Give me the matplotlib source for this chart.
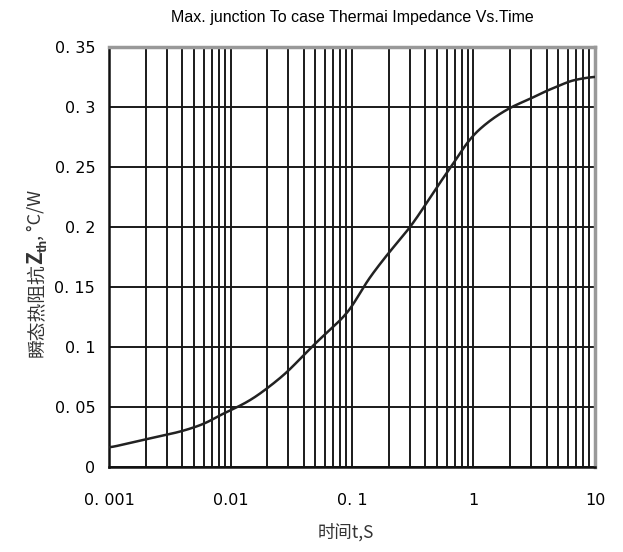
import matplotlib
matplotlib.use("Agg")
import matplotlib.pyplot as plt
import numpy as np
from matplotlib.ticker import FixedLocator, LogLocator, NullFormatter

t_s = [0.001, 0.002, 0.003, 0.004, 0.005, 0.006, 0.007, 0.009, 0.01, 0.0146, 0.02, 0.03,
       0.04, 0.05, 0.1, 0.1245, 0.2, 0.3, 0.549, 0.643, 1, 2, 3, 4, 5, 6, 8, 10]
zth = [0.0158, 0.0228, 0.0267, 0.0297, 0.0328, 0.0356, 0.039, 0.045, 0.047, 0.0556, 0.0653, 0.080,
       0.093, 0.1028, 0.1333, 0.150, 0.178, 0.1995, 0.239, 0.2487, 0.2764, 0.299, 0.307, 0.3133,
       0.317, 0.3208, 0.3236, 0.325]

y_ticks = [0, 0.05, 0.1, 0.15, 0.2, 0.25, 0.3, 0.35]
y_labels = ["0", "0. 05", "0. 1", "0. 15", "0. 2", "0. 25", "0. 3", "0. 35"]
x_ticks = [0.001, 0.01, 0.1, 1, 10]
x_labels = ["0. 001", "0.01", "0. 1", "1", "10"]

title = "Max. junction To case Thermai Impedance Vs.Time"
xlabel = "时间t,S"
ylabel_parts = ["瞬态热阻抗", "Z", "th", ", °C/W"]

CJK = ['Noto Sans CJK SC', 'DejaVu Sans']
plt.rcParams['font.family'] = ['Liberation Sans', 'Noto Sans CJK SC', 'DejaVu Sans']


def pchip(x, y, xn):
    x = np.asarray(x, float)
    y = np.asarray(y, float)
    h = np.diff(x)
    d = np.diff(y) / h
    m = np.zeros_like(y)
    for i in range(1, len(y) - 1):
        if d[i - 1] * d[i] <= 0:
            m[i] = 0
        else:
            w1 = 2 * h[i] + h[i - 1]
            w2 = h[i] + 2 * h[i - 1]
            m[i] = (w1 + w2) / (w1 / d[i - 1] + w2 / d[i])
    m[0] = d[0]
    m[-1] = d[-1]
    idx = np.clip(np.searchsorted(x, xn) - 1, 0, len(h) - 1)
    s = (xn - x[idx]) / h[idx]
    h00 = 2 * s**3 - 3 * s**2 + 1
    h10 = s**3 - 2 * s**2 + s
    h01 = -2 * s**3 + 3 * s**2
    h11 = s**3 - s**2
    return h00 * y[idx] + h10 * h[idx] * m[idx] + h01 * y[idx + 1] + h11 * h[idx] * m[idx + 1]


fig = plt.figure(figsize=(6.23, 5.52), dpi=100)
ax = fig.add_axes([0.175, 0.1545, 0.78, 0.761])

ax.set_xscale('log')
ax.set_xlim(0.001, 10)
ax.set_ylim(0, 0.35)

lt = np.log10(t_s)
fine = np.linspace(lt[0], lt[-1], 600)
zf = pchip(lt, zth, fine)
k = 21
kern = np.ones(k) / k
zpad = np.pad(zf, (k // 2, k // 2), mode='edge')
zs = np.convolve(zpad, kern, mode='valid')
ax.plot(10 ** fine, zs, color='#222222', lw=1.8, zorder=3)

ax.xaxis.set_major_locator(FixedLocator(x_ticks))
ax.xaxis.set_minor_locator(LogLocator(base=10, subs=np.arange(2, 10)))
ax.xaxis.set_minor_formatter(NullFormatter())
ax.set_xticks(x_ticks)
ax.set_xticklabels(x_labels, fontsize=11.5, family='DejaVu Sans')
ax.set_yticks(y_ticks)
ax.set_yticklabels(y_labels, fontsize=11.5, family='DejaVu Sans')

ax.grid(True, which='major', axis='both', color='#1a1a1a', lw=1.4)
ax.grid(True, which='minor', axis='x', color='#1a1a1a', lw=1.4)
ax.tick_params(which='both', length=0)
ax.tick_params(axis='x', pad=19)
ax.tick_params(axis='y', pad=10)

for s in ['left', 'bottom']:
    ax.spines[s].set_color('#111111')
    ax.spines[s].set_linewidth(1.8)
for s in ['top', 'right']:
    ax.spines[s].set_color('#999999')
    ax.spines[s].set_linewidth(2.5)

fig.text(0.565, 0.968, title, ha='center', va='center', fontsize=11.5,
         family=['Liberation Sans Narrow', 'Liberation Sans', 'DejaVu Sans'])
fig.text(0.555, 0.036, xlabel, ha='center', va='center', fontsize=12.5, color='#333333',
         family=CJK)

# y label built from pieces (rotated, going upward)
renderer = fig.canvas.get_renderer()
W, H = fig.get_size_inches() * fig.dpi
x_px = 36.0          # horizontal centre of the label (pixels from left)
y_px = 552 - 357.0   # bottom of label (pixels from bottom)
sizes = [13.5, 15, 9, 13]
xoffs = [0, 0, 7, 0]
weights = ['normal', 'bold', 'bold', 'normal']
for part, fs, dx, wt in zip(ylabel_parts, sizes, xoffs, weights):
    t = fig.text((x_px + dx) / W, y_px / H, part, rotation=90, ha='center', va='bottom',
                 fontsize=fs, color='#333333', family=CJK, weight=wt,
                 rotation_mode='default')
    bb = t.get_window_extent(renderer)
    y_px = bb.y1 - 1

fig.savefig('out.png', dpi=100, facecolor='white')
